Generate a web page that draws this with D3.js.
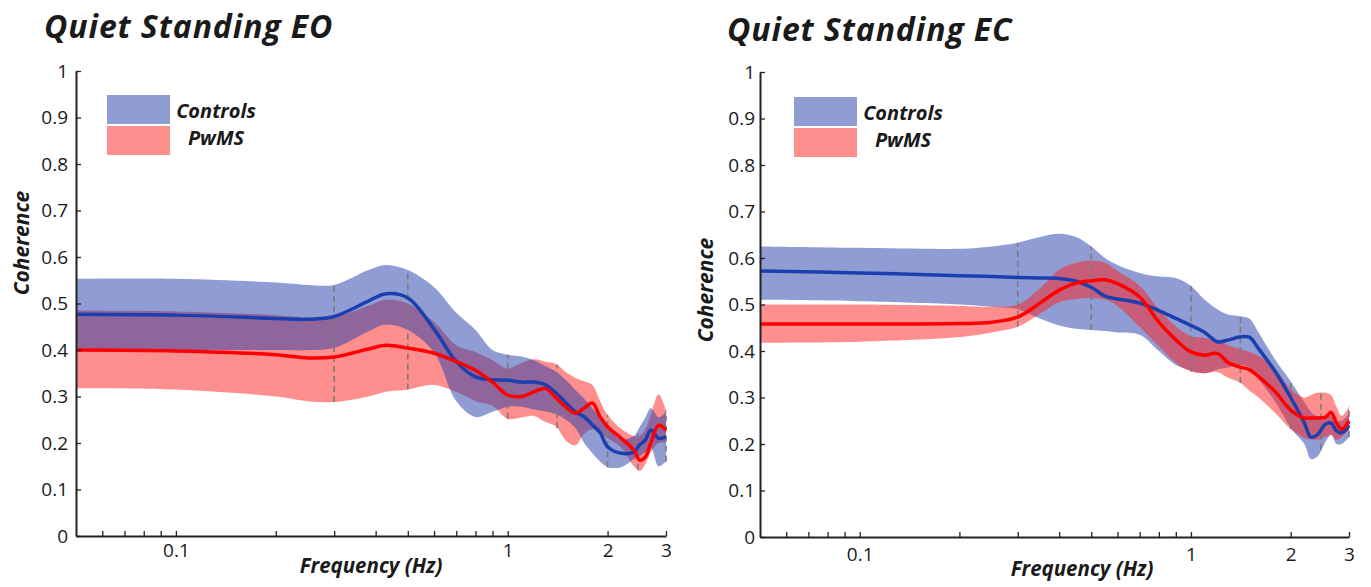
<!DOCTYPE html>
<html>
<head>
<meta charset="utf-8">
<script src="https://cdn.jsdelivr.net/npm/d3@7"></script>
<style>
  body { margin: 0; background: #fff; }
  text { font-family: "Open Sans", sans-serif; fill: #1a1a1a; }
</style>
</head>
<body>
<svg id="chart" width="1371" height="587"></svg>
<script>

// ---- data ----
var yTicks = [0, 0.1, 0.2, 0.3, 0.4, 0.5, 0.6, 0.7, 0.8, 0.9, 1];
var xTicks = [0.06, 0.07, 0.08, 0.09, 0.1, 0.2, 0.3, 0.4, 0.5, 0.6, 0.7, 0.8, 0.9, 1, 2, 3];
var xLabels = [0.1, 1, 2, 3];
var bandEdges = [0.3, 0.5, 1, 1.41, 2, 2.47, 3];
var groups = ["Controls", "PwMS"];

// eyes open
var freqEO = [0.05, 0.1, 0.2, 0.25, 0.3, 0.38, 0.43, 0.5, 0.6, 0.7, 0.8, 0.9, 1.0, 1.1, 1.2,
              1.3, 1.4, 1.5, 1.6, 1.7, 1.8, 1.9, 2.0, 2.2, 2.4, 2.5, 2.6, 2.7, 2.85, 3.0];
var ctrlMeanEO = [0.477, 0.475, 0.468, 0.466, 0.472, 0.505, 0.521, 0.512, 0.445, 0.375, 0.342, 0.336, 0.335, 0.331, 0.331,
                  0.325, 0.307, 0.286, 0.267, 0.256, 0.239, 0.222, 0.192, 0.178, 0.181, 0.196, 0.206, 0.228, 0.21, 0.213];
var ctrlUpEO = [0.553, 0.553, 0.545, 0.54, 0.54, 0.572, 0.583, 0.572, 0.535, 0.48, 0.443, 0.40, 0.39, 0.386, 0.378,
                0.365, 0.353, 0.335, 0.314, 0.295, 0.275, 0.255, 0.234, 0.208, 0.215, 0.235, 0.255, 0.275, 0.255, 0.268];
var ctrlLoEO = [0.40, 0.40, 0.40, 0.40, 0.405, 0.44, 0.455, 0.443, 0.395, 0.29, 0.256, 0.267, 0.278, 0.278, 0.272,
                0.268, 0.262, 0.25, 0.232, 0.20, 0.178, 0.16, 0.148, 0.148, 0.165, 0.172, 0.18, 0.19, 0.15, 0.16];
var msMeanEO = [0.40, 0.398, 0.39, 0.383, 0.385, 0.402, 0.41, 0.404, 0.393, 0.375, 0.356, 0.331, 0.303, 0.300, 0.310,
                0.317, 0.297, 0.277, 0.264, 0.275, 0.286, 0.256, 0.235, 0.21, 0.185, 0.163, 0.17, 0.20, 0.238, 0.228];
var msUpEO = [0.485, 0.483, 0.475, 0.47, 0.47, 0.495, 0.508, 0.50, 0.46, 0.41, 0.395, 0.378, 0.36, 0.372, 0.38,
              0.375, 0.37, 0.352, 0.34, 0.333, 0.325, 0.29, 0.26, 0.23, 0.215, 0.215, 0.23, 0.26, 0.305, 0.27];
var msLoEO = [0.318, 0.315, 0.30, 0.29, 0.288, 0.30, 0.31, 0.315, 0.325, 0.31, 0.29, 0.28, 0.252, 0.255, 0.258,
              0.245, 0.235, 0.205, 0.195, 0.22, 0.23, 0.22, 0.21, 0.19, 0.15, 0.14, 0.155, 0.18, 0.20, 0.20];

// eyes closed
var freqEC = [0.05, 0.1, 0.2, 0.25, 0.3, 0.35, 0.4, 0.45, 0.5, 0.55, 0.6, 0.7, 0.8, 0.9, 1.0, 1.1,
              1.2, 1.3, 1.4, 1.5, 1.6, 1.8, 2.0, 2.2, 2.3, 2.4, 2.55, 2.65, 2.75, 2.85, 3.0];
var ctrlMeanEC = [0.572, 0.568, 0.562, 0.56, 0.558, 0.557, 0.556, 0.55, 0.537, 0.518, 0.512, 0.503, 0.487, 0.47, 0.455, 0.44,
                  0.42, 0.424, 0.43, 0.43, 0.405, 0.355, 0.30, 0.245, 0.215, 0.219, 0.243, 0.245, 0.228, 0.224, 0.239];
var ctrlUpEC = [0.625, 0.622, 0.62, 0.625, 0.633, 0.645, 0.652, 0.645, 0.625, 0.60, 0.585, 0.568, 0.56, 0.557, 0.54, 0.51,
                0.49, 0.478, 0.475, 0.47, 0.44, 0.38, 0.335, 0.29, 0.27, 0.26, 0.26, 0.26, 0.25, 0.25, 0.265];
var ctrlLoEC = [0.51, 0.507, 0.50, 0.495, 0.49, 0.47, 0.455, 0.448, 0.445, 0.443, 0.44, 0.435, 0.40, 0.37, 0.358, 0.352,
                0.36, 0.365, 0.37, 0.365, 0.34, 0.29, 0.235, 0.20, 0.168, 0.172, 0.205, 0.22, 0.20, 0.20, 0.215];
var msMeanEC = [0.458, 0.458, 0.459, 0.462, 0.473, 0.503, 0.531, 0.546, 0.551, 0.553, 0.545, 0.516, 0.462, 0.424, 0.398, 0.391,
                0.395, 0.374, 0.366, 0.36, 0.345, 0.312, 0.273, 0.256, 0.256, 0.256, 0.258, 0.268, 0.245, 0.232, 0.25];
var msUpEC = [0.50, 0.50, 0.497, 0.495, 0.50, 0.535, 0.575, 0.59, 0.594, 0.59, 0.572, 0.54, 0.49, 0.453, 0.432, 0.428,
              0.422, 0.412, 0.405, 0.398, 0.39, 0.36, 0.318, 0.30, 0.305, 0.31, 0.31, 0.305, 0.28, 0.26, 0.28];
var msLoEC = [0.418, 0.42, 0.43, 0.44, 0.452, 0.48, 0.505, 0.512, 0.514, 0.51, 0.497, 0.452, 0.41, 0.374, 0.356, 0.352,
              0.355, 0.342, 0.333, 0.315, 0.30, 0.266, 0.232, 0.213, 0.21, 0.209, 0.215, 0.22, 0.209, 0.215, 0.23];

// ---- colours ----
var blueFill = "rgb(31,60,170)";
var redFill = "rgb(255,30,30)";
var blueLine = "#1b3fae";
var redLine = "#ff0000";

var svg = d3.select("#chart");

// Build point objects for a band / line
function makeRows(freq, mean, lo, hi) {
    var rows = [];
    for (var i = 0; i < freq.length; i++) {
        rows.push({ f: freq[i], m: mean[i], lo: lo[i], hi: hi[i] });
    }
    return rows;
}

function drawPanel(p) {
    var x = d3.scaleLog().domain([0.05, 3]).range([p.left, p.right]);
    var y = d3.scaleLinear().domain([0, 1]).range([p.bottom, p.top]);
    var g = svg.append("g");

    var ctrl = makeRows(p.freq, p.ctrlMean, p.ctrlLo, p.ctrlUp);
    var ms = makeRows(p.freq, p.msMean, p.msLo, p.msUp);

    var curve = d3.curveCatmullRom.alpha(0.5);
    var area = d3.area()
        .x(function(d) { return x(d.f); })
        .y0(function(d) { return y(d.lo); })
        .y1(function(d) { return y(d.hi); })
        .curve(curve);
    var line = d3.line()
        .x(function(d) { return x(d.f); })
        .y(function(d) { return y(d.m); })
        .curve(curve);

    // shaded bands, order changes the overlap colour
    var bands = [{ rows: ctrl, fill: blueFill }, { rows: ms, fill: redFill }];
    if (p.redFirst) bands.reverse();
    bands.forEach(function(b) {
        g.append("path")
            .attr("d", area(b.rows))
            .attr("fill", b.fill)
            .attr("fill-opacity", 0.5);
    });

    // dashed band edges, spanning both shaded regions
    var lo1 = d3.scaleLog().domain(p.freq).range(p.ctrlLo);
    var lo2 = d3.scaleLog().domain(p.freq).range(p.msLo);
    var hi1 = d3.scaleLog().domain(p.freq).range(p.ctrlUp);
    var hi2 = d3.scaleLog().domain(p.freq).range(p.msUp);
    bandEdges.forEach(function(f) {
        g.append("line")
            .attr("x1", x(f)).attr("x2", x(f))
            .attr("y1", y(Math.min(lo1(f), lo2(f))))
            .attr("y2", y(Math.max(hi1(f), hi2(f))))
            .attr("stroke", "#7a7a7a")
            .attr("stroke-width", 1.6)
            .attr("stroke-dasharray", "6,4");
    });

    // mean lines
    g.append("path").attr("d", line(ctrl))
        .attr("fill", "none").attr("stroke", blueLine).attr("stroke-width", 3.5);
    g.append("path").attr("d", line(ms))
        .attr("fill", "none").attr("stroke", redLine).attr("stroke-width", 3.5);

    // axes
    var xAxis = d3.axisBottom(x)
        .tickValues(xTicks)
        .tickSizeInner(-5).tickSizeOuter(0)
        .tickPadding(p.xPad)
        .tickFormat(function(d) { return xLabels.indexOf(d) >= 0 ? String(d) : ""; });
    var yAxis = d3.axisLeft(y)
        .tickValues(yTicks)
        .tickSizeInner(-5).tickSizeOuter(0)
        .tickPadding(p.yPad)
        .tickFormat(function(d) { return String(+d.toFixed(1)); });

    var gx = g.append("g").attr("transform", "translate(0," + p.bottom + ")").call(xAxis);
    var gy = g.append("g").attr("transform", "translate(" + p.left + ",0)").call(yAxis);
    [gx, gy].forEach(function(a) {
        a.select(".domain").attr("stroke", "#222").attr("stroke-width", 2);
        a.selectAll(".tick line").attr("stroke", "#222").attr("stroke-width", 1.3);
        a.selectAll(".tick text")
            .style("font-family", "'Open Sans', sans-serif")
            .style("font-size", "19px")
            .attr("fill", "#1a1a1a");
    });

    // titles and axis labels
    g.append("text")
        .attr("x", p.titleX).attr("y", p.titleY)
        .style("font-size", "32px").style("font-weight", "bold").style("font-style", "italic")
        .style("letter-spacing", "0.9px")
        .attr("fill", "#000")
        .text(p.title);
    g.append("text")
        .attr("transform", "translate(" + p.yLabX + "," + p.yLabY + ") rotate(-90)")
        .attr("text-anchor", "middle")
        .style("font-size", "21px").style("font-weight", "bold").style("font-style", "italic")
        .text("Coherence");
    g.append("text")
        .attr("x", p.xLabX).attr("y", p.xLabY)
        .attr("text-anchor", "middle")
        .style("font-size", "20.5px").style("font-weight", "bold").style("font-style", "italic")
        .text("Frequency (Hz)");

    // legend swatches
    var fills = [blueFill, redFill];
    groups.forEach(function(name, i) {
        g.append("rect")
            .attr("x", p.legX).attr("y", p.legY + i * 31)
            .attr("width", 63).attr("height", 29)
            .attr("fill", fills[i]).attr("fill-opacity", 0.5);
        g.append("text")
            .attr("x", p.legX + 109).attr("y", p.legY + 23 + i * 27)
            .attr("text-anchor", "middle")
            .style("font-size", "20px").style("font-weight", "bold").style("font-style", "italic")
            .text(name);
    });
}

drawPanel({
    title: "Quiet Standing EO", titleX: 44, titleY: 38,
    left: 76, right: 666, top: 71, bottom: 536,
    xPad: 8, yPad: 8,
    yLabX: 29, yLabY: 243, xLabX: 371, xLabY: 573,
    legX: 107, legY: 95,
    redFirst: true,
    freq: freqEO,
    ctrlMean: ctrlMeanEO, ctrlUp: ctrlUpEO, ctrlLo: ctrlLoEO,
    msMean: msMeanEO, msUp: msUpEO, msLo: msLoEO
});

drawPanel({
    title: "Quiet Standing EC", titleX: 727, titleY: 41,
    left: 760, right: 1349, top: 72, bottom: 537,
    xPad: 11, yPad: 5,
    yLabX: 713, yLabY: 290, xLabX: 1082, xLabY: 576,
    legX: 794, legY: 97,
    redFirst: false,
    freq: freqEC,
    ctrlMean: ctrlMeanEC, ctrlUp: ctrlUpEC, ctrlLo: ctrlLoEC,
    msMean: msMeanEC, msUp: msUpEC, msLo: msLoEC
});

</script>
</body>
</html>
